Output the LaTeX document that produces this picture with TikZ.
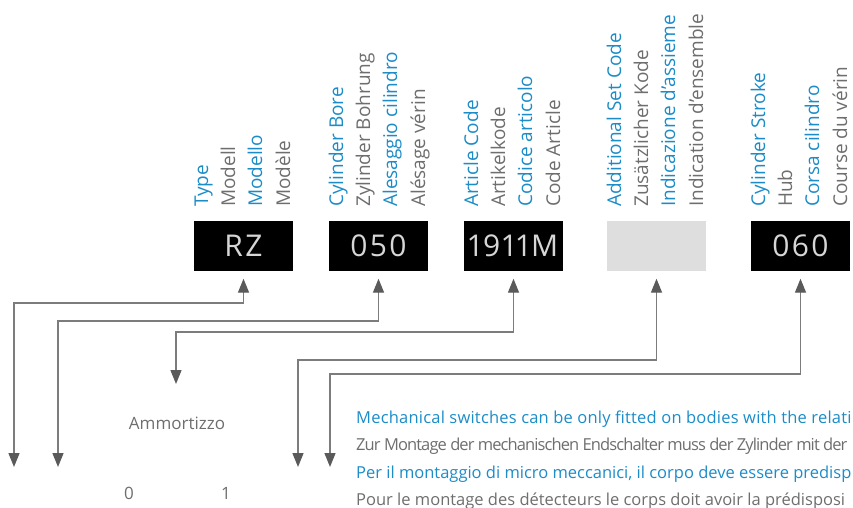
\documentclass[tikz,border=0pt]{standalone}
\usepackage{fontspec}
\setmainfont{Open Sans}
\newfontfamily\codefont[LetterSpace=8, Numbers=Proportional]{Open Sans}
\newfontfamily\widefont[LetterSpace=1.3]{Open Sans}
\newfontfamily\tightfont[LetterSpace=-5.5]{Open Sans}
\usetikzlibrary{arrows.meta, positioning}

\definecolor{codeblue}{HTML}{1B8CC8}
\definecolor{textgrey}{HTML}{6E6E6E}
\definecolor{linegrey}{HTML}{7C7C7C}
\definecolor{tipgrey}{HTML}{5A5A5A}
\definecolor{setgrey}{HTML}{DEDEDE}

\tikzset{
  linktip/.tip={Triangle[width=11pt,length=14pt,color=tipgrey]},
}

\begin{document}
\begin{tikzpicture}[x=1pt, y=-1pt,
  codebox/.style={fill=black, minimum width=99pt, minimum height=50pt, inner sep=0pt,
    text=white!84!black, font=\codefont\fontsize{30}{30}\selectfont},
  lab/.style={rotate=90, anchor=base west, inner sep=0pt, font=\fontsize{19}{22}\selectfont},
  note/.style={anchor=base west, inner sep=0pt, font=\fontsize{16.5}{18}\selectfont},
  option/.style={anchor=base, inner sep=0pt, text=textgrey, font=\fontsize{17}{18}\selectfont},
  link/.style={draw=linegrey, line width=1.4pt, linktip-linktip, shorten <=8pt}
]
\useasboundingbox (0,0) rectangle (853,508);
\clip (0,0) rectangle (853,508);

% Labels above the code boxes
\foreach \x/\i/\a/\b/\c/\d in {194/0/Type/Modell/Modello/Modèle,
    329/1/Cylinder Bore/Zylinder Bohrung/Alesaggio cilindro/Alésage vérin,
    464/2/Article Code/Artikelkode/Codice articolo/Code Article,
    607/3/Additional Set Code/Zusätzlicher Kode/Indicazione d’assieme/Indication d’ensemble,
    751/4/Cylinder Stroke/Hub/Corsa cilindro/Course du vérin} {
    \node[lab, text=codeblue] (en\i) at (\x+14,207) {\a};
    \node[lab, text=textgrey] (de\i) at (\x+41,207) {\b};
    \node[lab, text=codeblue] (it\i) at (\x+68,207) {\c};
    \node[lab, text=textgrey] (fr\i) at (\x+96,207) {\d};
}

% Code boxes
\node[codebox] (type) at (243.5,245.5) {RZ};
\node[codebox] (bore) at (378.5,245.5) {050};
\node[codebox] (article) at (513.5,245.5) {1911M};
\node[codebox, fill=setgrey] (set) at (656.5,245.5) {};
\node[codebox] (stroke) at (800.5,245.5) {060};

% Turning points and ends of the connectors
\coordinate (typeturn) at (14,303);
\coordinate (typeend) at (14,467);
\coordinate (boreturn) at (58,321);
\coordinate (boreend) at (58,467);
\coordinate (articleturn) at (176,332);
\coordinate (articleend) at (176,384);
\coordinate (setturn) at (298,360);
\coordinate (setend) at (298,467);
\coordinate (strketurn) at (330,374);
\coordinate (strokeend) at (330,467);

% Connectors
\draw[link] (type.south) |- (typeturn) -- (typeend);
\draw[link] (bore.south) |- (boreturn) -- (boreend);
\draw[link] (article.south) |- (articleturn) -- (articleend);
\draw[link] (set.south) |- (setturn) -- (setend);
\draw[link] (stroke.south) |- (strketurn) -- (strokeend);

% Options
\node[option] (cushion) at (177,429) {Ammortizzo};
\node[option] (zero) at (129,499) {0};
\node[option] (one) at (226,499) {1};

% Notes (cut at the right edge)
\node[note, text=codeblue, font=\widefont\fontsize{16.5}{18}\selectfont] (noteen) at (356,423) {Mechanical switches can be only fitted on bodies with the relati};
\node[note, text=textgrey, font=\tightfont\fontsize{16.5}{18}\selectfont] (notede) at (356,450) {Zur Montage der mechanischen Endschalter muss der Zylinder mit der};
\node[note, text=codeblue] (noteit) at (356,478) {Per il montaggio di micro meccanici, il corpo deve essere predisp};
\node[note, text=textgrey] (notefr) at (356,505) {Pour le montage des détecteurs le corps doit avoir la prédisposi};
\end{tikzpicture}
\end{document}
